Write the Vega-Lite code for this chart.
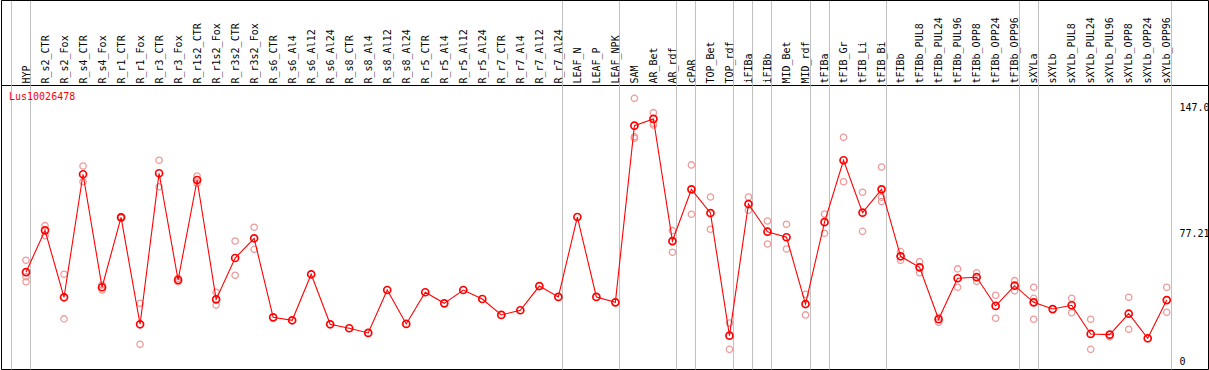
{
  "$schema": "https://vega.github.io/schema/vega-lite/v6.json",
  "autosize": "none",
  "width": 1207,
  "height": 284,
  "padding": {"left": 1, "top": 85, "right": 1, "bottom": 1},
  "background": "white",
  "title": {"text": "Lus10026478", "color": "#ff0000", "font": "DejaVu Sans Mono", "fontSize": 10, "fontWeight": "normal", "anchor": "start", "frame": "group", "orient": "top", "offset": -102, "dx": 8},
  "datasets": {
    "means": [
      {"i": 0, "tissue": "HYP", "v": 51.9},
      {"i": 1, "tissue": "R_s2_CTR", "v": 76.1},
      {"i": 2, "tissue": "R_s2_Fox", "v": 37.4},
      {"i": 3, "tissue": "R_s4_CTR", "v": 108.5},
      {"i": 4, "tissue": "R_s4_Fox", "v": 43.2},
      {"i": 5, "tissue": "R_r1_CTR", "v": 83.6},
      {"i": 6, "tissue": "R_r1_Fox", "v": 21.8},
      {"i": 7, "tissue": "R_r3_CTR", "v": 109.1},
      {"i": 8, "tissue": "R_r3_Fox", "v": 47.4},
      {"i": 9, "tissue": "R_r1s2_CTR", "v": 105.2},
      {"i": 10, "tissue": "R_r1s2_Fox", "v": 36.2},
      {"i": 11, "tissue": "R_r3s2_CTR", "v": 60.1},
      {"i": 12, "tissue": "R_r3s2_Fox", "v": 71.5},
      {"i": 13, "tissue": "R_s6_CTR", "v": 25.8},
      {"i": 14, "tissue": "R_s6_Al4", "v": 24.1},
      {"i": 15, "tissue": "R_s6_Al12", "v": 50.7},
      {"i": 16, "tissue": "R_s6_Al24", "v": 21.8},
      {"i": 17, "tissue": "R_s8_CTR", "v": 19.5},
      {"i": 18, "tissue": "R_s8_Al4", "v": 16.8},
      {"i": 19, "tissue": "R_s8_Al12", "v": 41.6},
      {"i": 20, "tissue": "R_s8_Al24", "v": 22.0},
      {"i": 21, "tissue": "R_r5_CTR", "v": 40.3},
      {"i": 22, "tissue": "R_r5_Al4", "v": 33.9},
      {"i": 23, "tissue": "R_r5_Al12", "v": 41.6},
      {"i": 24, "tissue": "R_r5_Al24", "v": 36.4},
      {"i": 25, "tissue": "R_r7_CTR", "v": 27.2},
      {"i": 26, "tissue": "R_r7_Al4", "v": 29.9},
      {"i": 27, "tissue": "R_r7_Al12", "v": 43.9},
      {"i": 28, "tissue": "R_r7_Al24", "v": 37.6},
      {"i": 29, "tissue": "LEAF_N", "v": 83.8},
      {"i": 30, "tissue": "LEAF_P", "v": 37.6},
      {"i": 31, "tissue": "LEAF_NPK", "v": 34.5},
      {"i": 32, "tissue": "SAM", "v": 136.6},
      {"i": 33, "tissue": "AR_Bet", "v": 140.5},
      {"i": 34, "tissue": "AR_rdf", "v": 69.9},
      {"i": 35, "tissue": "cPAR", "v": 99.8},
      {"i": 36, "tissue": "TOP_Bet", "v": 86.1},
      {"i": 37, "tissue": "TOP_rdf", "v": 15.2},
      {"i": 38, "tissue": "iFIBa", "v": 91.3},
      {"i": 39, "tissue": "iFIBb", "v": 75.3},
      {"i": 40, "tissue": "MID_Bet", "v": 72.1},
      {"i": 41, "tissue": "MID_rdf", "v": 33.5},
      {"i": 42, "tissue": "tFIBa", "v": 80.8},
      {"i": 43, "tissue": "tFIB_Gr", "v": 116.6},
      {"i": 44, "tissue": "tFIB_Li", "v": 86.3},
      {"i": 45, "tissue": "tFIB_Bi", "v": 99.8},
      {"i": 46, "tissue": "tFIBb", "v": 61.1},
      {"i": 47, "tissue": "tFIBb_PUL8", "v": 54.7},
      {"i": 48, "tissue": "tFIBb_PUL24", "v": 24.7},
      {"i": 49, "tissue": "tFIBb_PUL96", "v": 48.4},
      {"i": 50, "tissue": "tFIBb_OPP8", "v": 49.0},
      {"i": 51, "tissue": "tFIBb_OPP24", "v": 32.4},
      {"i": 52, "tissue": "tFIBb_OPP96", "v": 44.1},
      {"i": 53, "tissue": "sXYLa", "v": 34.5},
      {"i": 54, "tissue": "sXYLb", "v": 30.6},
      {"i": 55, "tissue": "sXYLb_PUL8", "v": 32.8},
      {"i": 56, "tissue": "sXYLb_PUL24", "v": 16.2},
      {"i": 57, "tissue": "sXYLb_PUL96", "v": 15.8},
      {"i": 58, "tissue": "sXYLb_OPP8", "v": 27.9},
      {"i": 59, "tissue": "sXYLb_OPP24", "v": 13.7},
      {"i": 60, "tissue": "sXYLb_OPP96", "v": 35.8}
    ],
    "reps": [
      {"i": 0, "v": 58.8}, {"i": 0, "v": 49.3}, {"i": 0, "v": 46.4},
      {"i": 1, "v": 78.8}, {"i": 1, "v": 73.0},
      {"i": 2, "v": 50.7}, {"i": 2, "v": 24.9},
      {"i": 3, "v": 113.3}, {"i": 3, "v": 104.2},
      {"i": 4, "v": 44.5}, {"i": 4, "v": 41.6},
      {"i": 5, "v": 84.0}, {"i": 5, "v": 83.2},
      {"i": 6, "v": 33.9}, {"i": 6, "v": 10.2},
      {"i": 7, "v": 116.6}, {"i": 7, "v": 101.3},
      {"i": 8, "v": 48.4}, {"i": 8, "v": 46.4},
      {"i": 9, "v": 107.5}, {"i": 9, "v": 103.3},
      {"i": 10, "v": 40.3}, {"i": 10, "v": 32.9},
      {"i": 11, "v": 69.9}, {"i": 11, "v": 50.1},
      {"i": 12, "v": 77.9}, {"i": 12, "v": 65.1},
      {"i": 32, "v": 152.4}, {"i": 32, "v": 130.2}, {"i": 32, "v": 129.3},
      {"i": 33, "v": 144.1}, {"i": 33, "v": 138.0}, {"i": 33, "v": 137.0},
      {"i": 34, "v": 75.9}, {"i": 34, "v": 63.4},
      {"i": 35, "v": 113.9}, {"i": 35, "v": 85.4},
      {"i": 36, "v": 95.4}, {"i": 36, "v": 76.7},
      {"i": 37, "v": 22.5}, {"i": 37, "v": 7.3},
      {"i": 38, "v": 95.4}, {"i": 38, "v": 87.7},
      {"i": 39, "v": 81.5}, {"i": 39, "v": 68.2},
      {"i": 40, "v": 79.6}, {"i": 40, "v": 65.3},
      {"i": 41, "v": 39.1}, {"i": 41, "v": 27.2},
      {"i": 42, "v": 85.5}, {"i": 42, "v": 74.4},
      {"i": 43, "v": 129.9}, {"i": 43, "v": 104.2},
      {"i": 44, "v": 98.1}, {"i": 44, "v": 75.5},
      {"i": 45, "v": 112.7}, {"i": 45, "v": 95.2}, {"i": 45, "v": 92.7},
      {"i": 46, "v": 63.8}, {"i": 46, "v": 58.8},
      {"i": 47, "v": 58.0}, {"i": 47, "v": 51.6},
      {"i": 48, "v": 25.8}, {"i": 48, "v": 22.9},
      {"i": 49, "v": 53.8}, {"i": 49, "v": 43.2},
      {"i": 50, "v": 51.6}, {"i": 50, "v": 46.6},
      {"i": 51, "v": 38.6}, {"i": 51, "v": 25.3},
      {"i": 52, "v": 47.0}, {"i": 52, "v": 41.2},
      {"i": 53, "v": 43.2}, {"i": 53, "v": 36.8}, {"i": 53, "v": 24.7},
      {"i": 55, "v": 36.8}, {"i": 55, "v": 28.5},
      {"i": 56, "v": 24.7}, {"i": 56, "v": 7.3},
      {"i": 57, "v": 14.6},
      {"i": 58, "v": 37.4}, {"i": 58, "v": 18.9},
      {"i": 60, "v": 43.2}, {"i": 60, "v": 28.7}
    ]
  },
  "layer": [
    {
      "mark": {"type": "rule", "color": "#c0c0c0", "strokeWidth": 1},
      "encoding": {
        "x": {"datum": -1.315, "type": "quantitative", "scale": {"domain": [-1.315, 62.17], "nice": false, "zero": false}, "axis": null},
        "x2": {"datum": 60.21},
        "y": {"datum": 77.21, "type": "quantitative", "scale": {"domain": [-4.05, 160.1], "nice": false, "zero": false}, "axis": null}
      }
    },
    {
      "data": {"name": "reps"},
      "mark": {"type": "point", "shape": "circle", "filled": false, "stroke": "#ef9a9a", "strokeWidth": 1.3, "size": 40, "opacity": 1},
      "encoding": {
        "x": {"field": "i", "type": "quantitative", "title": null, "scale": {"domain": [-1.315, 62.17], "nice": false, "zero": false},
          "axis": {"orient": "top", "values": [-0.79, 0.21, 28.21, 31.21, 34.21, 35.21, 37.21, 38.21, 39.21, 41.21, 42.21, 45.21, 52.21, 53.21, 60.21], "labels": false, "domain": false, "ticks": true, "tickSize": 85, "tickColor": "#c0c0c0", "tickWidth": 1, "grid": true, "gridColor": "#c0c0c0", "gridOpacity": 1, "gridWidth": 1}},
        "y": {"field": "v", "type": "quantitative", "title": null, "scale": {"domain": [-4.05, 160.1], "nice": false, "zero": false},
          "axis": {"orient": "right", "offset": -29, "values": [0, 77.21, 147], "labelExpr": "datum.value == 0 ? '0' : (datum.value == 147 ? '147.0' : '77.21')", "ticks": false, "domain": false, "grid": false, "labelPadding": 0, "labelAlign": "left", "labelBaseline": {"condition": {"test": "datum.value > 70 && datum.value < 80", "value": "top"}, "value": "middle"}, "labelFont": "DejaVu Sans Mono", "labelFontSize": 10, "labelColor": "black", "labelOverlap": false, "labelFlush": false}}
      }
    },
    {
      "data": {"name": "means"},
      "mark": {"type": "line", "color": "#ff0000", "strokeWidth": 1.1},
      "encoding": {
        "x": {"field": "i", "type": "quantitative", "title": null, "scale": {"domain": [-1.315, 62.17], "nice": false, "zero": false},
          "axis": {"orient": "top", "values": [0,1,2,3,4,5,6,7,8,9,10,11,12,13,14,15,16,17,18,19,20,21,22,23,24,25,26,27,28,29,30,31,32,33,34,35,36,37,38,39,40,41,42,43,44,45,46,47,48,49,50,51,52,53,54,55,56,57,58,59,60],
            "labelExpr": "['HYP','R_s2_CTR','R_s2_Fox','R_s4_CTR','R_s4_Fox','R_r1_CTR','R_r1_Fox','R_r3_CTR','R_r3_Fox','R_r1s2_CTR','R_r1s2_Fox','R_r3s2_CTR','R_r3s2_Fox','R_s6_CTR','R_s6_Al4','R_s6_Al12','R_s6_Al24','R_s8_CTR','R_s8_Al4','R_s8_Al12','R_s8_Al24','R_r5_CTR','R_r5_Al4','R_r5_Al12','R_r5_Al24','R_r7_CTR','R_r7_Al4','R_r7_Al12','R_r7_Al24','LEAF_N','LEAF_P','LEAF_NPK','SAM','AR_Bet','AR_rdf','cPAR','TOP_Bet','TOP_rdf','iFIBa','iFIBb','MID_Bet','MID_rdf','tFIBa','tFIB_Gr','tFIB_Li','tFIB_Bi','tFIBb','tFIBb_PUL8','tFIBb_PUL24','tFIBb_PUL96','tFIBb_OPP8','tFIBb_OPP24','tFIBb_OPP96','sXYLa','sXYLb','sXYLb_PUL8','sXYLb_PUL24','sXYLb_PUL96','sXYLb_OPP8','sXYLb_OPP24','sXYLb_OPP96'][datum.value]",
            "labelAngle": -90, "labelAlign": "left", "labelBaseline": "middle", "labelPadding": 2, "labelFont": "DejaVu Sans Mono", "labelFontSize": 10, "labelColor": "black", "labelOverlap": false, "labelFlush": false, "labelBound": false, "ticks": false, "domain": false, "grid": false}},
        "y": {"field": "v", "type": "quantitative", "scale": {"domain": [-4.05, 160.1], "nice": false, "zero": false}, "axis": null}
      }
    },
    {
      "data": {"name": "means"},
      "mark": {"type": "point", "shape": "circle", "filled": false, "stroke": "#ff0000", "strokeWidth": 1.7, "size": 49, "opacity": 1},
      "encoding": {
        "x": {"field": "i", "type": "quantitative", "title": null, "scale": {"domain": [-1.315, 62.17], "nice": false, "zero": false},
          "axis": {"orient": "top", "offset": 85, "values": [-1.315, 62.17], "labels": false, "domain": true, "domainColor": "black", "domainWidth": 1, "ticks": true, "tickSize": -85, "tickColor": "black", "tickWidth": 1, "grid": false}},
        "y": {"field": "v", "type": "quantitative", "scale": {"domain": [-4.05, 160.1], "nice": false, "zero": false}, "axis": null}
      }
    }
  ],
  "resolve": {"axis": {"x": "independent", "y": "independent"}},
  "config": {
    "view": {"stroke": "black", "strokeWidth": 1},
    "font": "DejaVu Sans Mono"
  }
}
